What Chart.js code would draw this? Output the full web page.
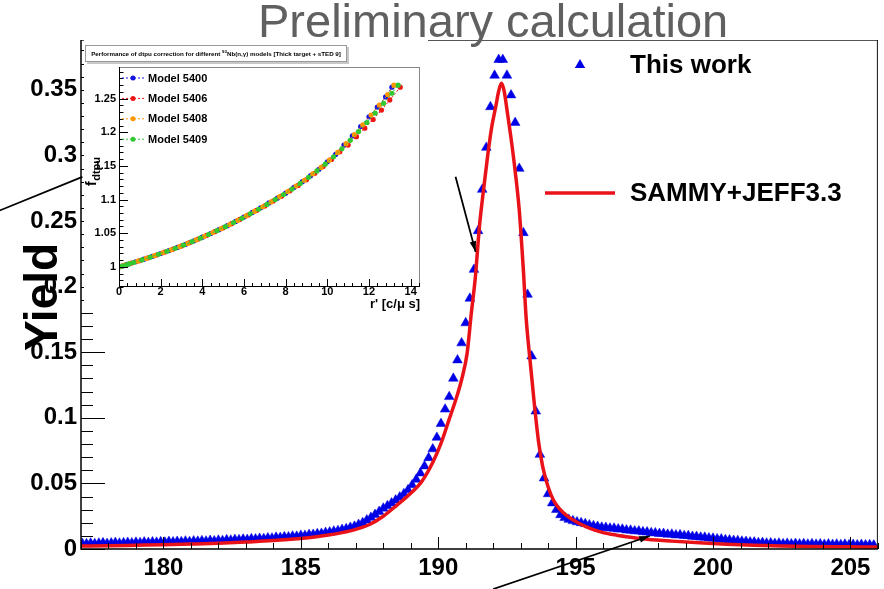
<!DOCTYPE html>
<html>
<head>
<meta charset="utf-8">
<title>Yield</title>
<script src="https://cdn.jsdelivr.net/npm/chart.js@4.4.1/dist/chart.umd.min.js"></script>
<style>
body { margin: 0; background: #fff; }
#wrap { position: relative; width: 884px; height: 589px; overflow: hidden; }
#main-chart { position: absolute; left: 0; top: 0; }
#inset-chart { position: absolute; left: 84px; top: 40px; }
</style>
</head>
<body>
<div id="wrap">
	<canvas id="main-chart" width="884" height="589"></canvas>
	<canvas id="inset-chart" width="344" height="272"></canvas>
</div>
<script>
var FONT = '"Liberation Sans", Arial, Helvetica, sans-serif';

// main axes
var xTicks = [180, 185, 190, 195, 200, 205];
var yTicks = [0, 0.05, 0.1, 0.15, 0.2, 0.25, 0.3, 0.35];
var yTickLabels = ['0', '0.05', '0.1', '0.15', '0.2', '0.25', '0.3', '0.35'];
var seriesNames = ['This work', 'SAMMY+JEFF3.3'];

// measured yield (This work)
var energyWork = [
	177.05, 177.2, 177.35, 177.5, 177.65, 177.8, 177.95, 178.1, 178.25, 178.4, 178.55, 178.7, 178.85, 179, 179.15, 179.3, 179.45, 179.6, 179.75, 179.9,
	180.05, 180.2, 180.35, 180.5, 180.65, 180.8, 180.95, 181.1, 181.25, 181.4, 181.55, 181.7, 181.85, 182, 182.15, 182.3, 182.45, 182.6, 182.75, 182.9,
	183.05, 183.2, 183.35, 183.5, 183.65, 183.8, 183.95, 184.1, 184.25, 184.4, 184.55, 184.7, 184.85, 185, 185.15, 185.3, 185.45, 185.6, 185.75, 185.9,
	186.05, 186.2, 186.35, 186.5, 186.65, 186.8, 186.95, 187.1, 187.25, 187.4, 187.55, 187.7, 187.85, 188, 188.15, 188.3, 188.45, 188.6, 188.75, 188.9,
	189.05, 189.2, 189.35, 189.5, 189.65, 189.8, 189.95, 190.1, 190.25, 190.4, 190.55, 190.7, 190.85, 191, 191.15, 191.3, 191.45, 191.6, 191.75, 191.9,
	192.05, 192.2, 192.35, 192.5, 192.65, 192.8, 192.95, 193.1, 193.25, 193.4, 193.55, 193.7, 193.85, 194, 194.15, 194.3, 194.45, 194.6, 194.75, 194.9,
	195.05, 195.2, 195.35, 195.5, 195.65, 195.8, 195.95, 196.1, 196.25, 196.4, 196.55, 196.7, 196.85, 197, 197.15, 197.3, 197.45, 197.6, 197.75, 197.9,
	198.05, 198.2, 198.35, 198.5, 198.65, 198.8, 198.95, 199.1, 199.25, 199.4, 199.55, 199.7, 199.85, 200, 200.15, 200.3, 200.45, 200.6, 200.75, 200.9,
	201.05, 201.2, 201.35, 201.5, 201.65, 201.8, 201.95, 202.1, 202.25, 202.4, 202.55, 202.7, 202.85, 203, 203.15, 203.3, 203.45, 203.6, 203.75, 203.9,
	204.05, 204.2, 204.35, 204.5, 204.65, 204.8, 204.95, 205.1, 205.25, 205.4, 205.55, 205.7, 205.85
];
var yieldWork = [
	0.0041, 0.0039, 0.0044, 0.0040, 0.0043, 0.0046, 0.0041, 0.0045, 0.0048, 0.0043, 0.0046, 0.0049, 0.0045, 0.0050, 0.0047, 0.0052, 0.0048, 0.0053, 0.0050, 0.0054,
	0.0051, 0.0056, 0.0053, 0.0057, 0.0054, 0.0059, 0.0055, 0.0060, 0.0058, 0.0062, 0.0059, 0.0064, 0.0061, 0.0066, 0.0063, 0.0069, 0.0066, 0.0071, 0.0069, 0.0074,
	0.0071, 0.0077, 0.0075, 0.0080, 0.0078, 0.0084, 0.0082, 0.0088, 0.0086, 0.0092, 0.0091, 0.0097, 0.0096, 0.0103, 0.0102, 0.0109, 0.0110, 0.0116, 0.0118, 0.0125,
	0.0128, 0.0135, 0.0139, 0.0148, 0.0154, 0.0164, 0.0172, 0.0186, 0.0200, 0.0220, 0.0240, 0.0262, 0.0285, 0.0310, 0.0328, 0.0350, 0.0372, 0.0395, 0.0420, 0.0450,
	0.0488, 0.0530, 0.0578, 0.0632, 0.0695, 0.0762, 0.0850, 0.0955, 0.1065, 0.1160, 0.1300, 0.1440, 0.1570, 0.1723, 0.1910, 0.2130, 0.2425, 0.2740, 0.3060, 0.3370,
	0.3610, 0.3730, 0.3730, 0.3610, 0.3460, 0.3250, 0.2900, 0.2410, 0.1940, 0.1470, 0.1050, 0.0720, 0.0540, 0.0420, 0.0350, 0.0300, 0.0260, 0.0238, 0.0225, 0.0215,
	0.0206, 0.0199, 0.0192, 0.0183, 0.0176, 0.0171, 0.0165, 0.0163, 0.0158, 0.0157, 0.0151, 0.0150, 0.0144, 0.0142, 0.0137, 0.0136, 0.0130, 0.0129, 0.0123, 0.0122,
	0.0117, 0.0117, 0.0111, 0.0112, 0.0106, 0.0107, 0.0101, 0.0101, 0.0095, 0.0094, 0.0089, 0.0088, 0.0083, 0.0081, 0.0076, 0.0075, 0.0070, 0.0068, 0.0064, 0.0063,
	0.0058, 0.0057, 0.0052, 0.0052, 0.0047, 0.0048, 0.0044, 0.0045, 0.0041, 0.0043, 0.0039, 0.0042, 0.0038, 0.0041, 0.0037, 0.0040, 0.0036, 0.0039, 0.0035, 0.0038,
	0.0034, 0.0037, 0.0033, 0.0036, 0.0032, 0.0035, 0.0031, 0.0034, 0.0030, 0.0033, 0.0030, 0.0032, 0.0029
];

// SAMMY fit with JEFF-3.3 parameters
var energySammy = [177, 178, 179, 180, 181, 182, 183, 184, 185, 185.5, 186, 186.5, 187, 187.5, 188, 188.5, 189, 189.4, 189.8, 190.1, 190.4, 190.65,
	190.85, 191.05, 191.2, 191.35, 191.5, 191.65, 191.8, 191.95, 192.1, 192.2, 192.3, 192.4, 192.5, 192.65, 192.8, 192.95, 193.1, 193.2,
	193.35, 193.5, 193.65, 193.8, 194, 194.2, 194.4, 194.7, 195.1, 195.5, 196, 196.5, 197, 197.6, 198.5, 199.5, 200.5, 201.5, 202.5,
	203.5, 204.5, 205.5, 206];
var yieldSammy = [0.0022, 0.0025, 0.0029, 0.0033, 0.0038, 0.0044, 0.0053, 0.0064, 0.0080, 0.0091, 0.0106, 0.0125, 0.0150, 0.0187, 0.0250, 0.0335, 0.0425, 0.0515, 0.0660, 0.0805, 0.0990, 0.1145,
	0.1290, 0.1490, 0.1790, 0.2070, 0.2460, 0.2740, 0.3000, 0.3220, 0.3380, 0.3490, 0.3550, 0.3490, 0.3350, 0.3130, 0.2880, 0.2580, 0.2120, 0.1760,
	0.1420, 0.1100, 0.0820, 0.0630, 0.0473, 0.0370, 0.0310, 0.0250, 0.0198, 0.0160, 0.0125, 0.0105, 0.0090, 0.0075, 0.0060, 0.0047, 0.0037, 0.0029, 0.0023,
	0.0019, 0.0017, 0.0016, 0.0015];

// inset: dtpu correction factor vs counting rate
var insetModels = ['Model 5400', 'Model 5406', 'Model 5408', 'Model 5409'];
var insetXTicks = [0, 2, 4, 6, 8, 10, 12, 14];
var insetYTicks = [1, 1.05, 1.1, 1.15, 1.2, 1.25];
var insetYTickLabels = ['1', '1.05', '1.1', '1.15', '1.2', '1.25'];

var rate5400 = [0.05, 0.2, 0.4, 0.8, 1.2, 1.6, 2.0, 2.4, 2.8, 3.2, 3.6, 4.0, 4.4, 4.8, 5.2, 5.6, 6.0, 6.4, 6.8, 7.2, 7.6, 8.0, 8.4, 8.8, 9.2, 9.6, 10.0, 10.4, 10.8, 11.2, 11.6, 12.0, 12.4, 12.8, 13.1];
var fdtpu5400 = [1.0003, 1.0015, 1.0035, 1.0075, 1.0113, 1.0155, 1.0198, 1.0242, 1.0288, 1.0335, 1.0387, 1.0440, 1.0495, 1.0552, 1.0612, 1.0675, 1.0740, 1.0808, 1.0878, 1.0950, 1.1020, 1.1095, 1.1180, 1.1265, 1.1355, 1.1450, 1.1560, 1.1670, 1.1810, 1.1945, 1.2085, 1.2230, 1.2375, 1.2525, 1.2670];

var rate5406 = [0.1, 0.3, 0.6, 1.0, 1.4, 1.8, 2.2, 2.6, 3.0, 3.4, 3.8, 4.2, 4.6, 5.0, 5.4, 5.8, 6.2, 6.6, 7.0, 7.4, 7.8, 8.2, 8.6, 9.0, 9.4, 9.8, 10.2, 10.6, 11.0, 11.4, 11.8, 12.2, 12.6, 13.0, 13.5];
var fdtpu5406 = [1.0008, 1.0025, 1.0055, 1.0093, 1.0133, 1.0176, 1.0219, 1.0264, 1.0310, 1.0360, 1.0412, 1.0466, 1.0522, 1.0580, 1.0641, 1.0704, 1.0770, 1.0838, 1.0905, 1.0978, 1.1050, 1.1130, 1.1210, 1.1295, 1.1390, 1.1490, 1.1595, 1.1710, 1.1810, 1.1935, 1.2060, 1.2190, 1.2330, 1.2480, 1.2670];

var rate5408 = [0.05, 0.25, 0.5, 0.9, 1.3, 1.7, 2.1, 2.5, 2.9, 3.3, 3.7, 4.1, 4.5, 4.9, 5.3, 5.7, 6.1, 6.5, 6.9, 7.3, 7.7, 8.1, 8.5, 8.9, 9.3, 9.7, 10.1, 10.5, 10.9, 11.3, 11.7, 12.1, 12.5, 12.9, 13.2];
var fdtpu5408 = [1.0004, 1.0022, 1.0046, 1.0084, 1.0124, 1.0166, 1.0209, 1.0253, 1.0299, 1.0348, 1.0400, 1.0453, 1.0509, 1.0567, 1.0627, 1.0690, 1.0756, 1.0823, 1.0893, 1.0965, 1.1040, 1.1118, 1.1200, 1.1287, 1.1380, 1.1478, 1.1585, 1.1700, 1.1830, 1.1965, 1.2110, 1.2255, 1.2405, 1.2560, 1.2700];

var rate5409 = [0.0, 0.15, 0.35, 0.5, 0.7, 1.1, 1.5, 1.9, 2.3, 2.7, 3.1, 3.5, 3.9, 4.3, 4.7, 5.1, 5.5, 5.9, 6.3, 6.7, 7.1, 7.5, 7.9, 8.3, 8.7, 9.1, 9.5, 9.9, 10.3, 10.7, 11.1, 11.5, 11.9, 12.3, 12.7, 13.1, 13.4];
var fdtpu5409 = [1.0000, 1.0012, 1.0030, 1.0045, 1.0064, 1.0103, 1.0144, 1.0187, 1.0230, 1.0276, 1.0323, 1.0373, 1.0426, 1.0480, 1.0537, 1.0596, 1.0657, 1.0721, 1.0787, 1.0856, 1.0927, 1.1000, 1.1075, 1.1155, 1.1240, 1.1330, 1.1425, 1.1525, 1.1635, 1.1755, 1.1880, 1.2010, 1.2145, 1.2285, 1.2430, 1.2580, 1.2700];

var workColor = 'rgb(0,0,230)';
var sammyColor = 'rgb(232,18,24)';
var insetColors = ['rgb(20,20,225)', 'rgb(240,20,20)', 'rgb(255,150,0)', 'rgb(50,200,50)'];

Chart.defaults.font.family = FONT;
Chart.defaults.color = '#000';

var pts = function (xs, ys) {
	return xs.map(function (x, i) { return { x: x, y: ys[i] }; });
};

// ROOT style tick marks, drawn inside the frame
var tickLines = function (ctx, scale, area, axis, values, len) {
	ctx.beginPath();
	values.forEach(function (v) {
		let p = scale.getPixelForValue(v);
		if (axis === 'x') {
			if (p < area.left - 0.5 || p > area.right + 0.5) return;
			p = Math.round(p) + 0.5;
			ctx.moveTo(p, area.bottom);
			ctx.lineTo(p, area.bottom - len);
		} else {
			if (p < area.top - 0.5 || p > area.bottom + 0.5) return;
			p = Math.round(p) + 0.5;
			ctx.moveTo(area.left, p);
			ctx.lineTo(area.left + len, p);
		}
	});
	ctx.stroke();
};

var steps = function (from, to, step) {
	let out = [];
	let n = Math.round((to - from) / step);
	for (let i = 0; i <= n; i++) out.push(from + i * step);
	return out;
};

var triangle = function (ctx, x, y, r) {
	ctx.beginPath();
	ctx.moveTo(x, y - r);
	ctx.lineTo(x + r * 0.866, y + r * 0.5);
	ctx.lineTo(x - r * 0.866, y + r * 0.5);
	ctx.closePath();
	ctx.fill();
};

var arrow = function (ctx, x1, y1, x2, y2, head) {
	ctx.beginPath();
	ctx.moveTo(x1, y1);
	ctx.lineTo(x2, y2);
	ctx.stroke();
	if (!head) return;
	let a = Math.atan2(y2 - y1, x2 - x1);
	ctx.beginPath();
	ctx.moveTo(x2, y2);
	ctx.lineTo(x2 - head * Math.cos(a - 0.3), y2 - head * Math.sin(a - 0.3));
	ctx.lineTo(x2 - head * Math.cos(a + 0.3), y2 - head * Math.sin(a + 0.3));
	ctx.closePath();
	ctx.fill();
};

// pointers in (energy, yield) units
var pointers = [
	{ from: [190.63, 0.2837], to: [191.36, 0.2265], head: 11 },
	{ from: [192.0, -0.0305], to: [197.7, 0.0099], head: 11 },
	{ from: [174.0, 0.2577], to: [177.05, 0.2837], head: 0 }
];

var mainDecor = {
	id: 'mainDecor',
	afterDraw: function (chart) {
		let ctx = chart.ctx, a = chart.chartArea;
		let xs = chart.scales.x, ys = chart.scales.y;
		ctx.save();

		// frame
		ctx.lineWidth = 1;
		ctx.strokeStyle = '#555';
		ctx.beginPath();
		ctx.moveTo(a.left, a.top + 0.5);
		ctx.lineTo(a.right, a.top + 0.5);
		ctx.stroke();
		ctx.strokeStyle = '#111';
		ctx.beginPath();
		ctx.moveTo(a.right - 0.5, a.top);
		ctx.lineTo(a.right - 0.5, a.bottom);
		ctx.stroke();
		ctx.strokeStyle = '#000';
		ctx.lineWidth = 1.5;
		ctx.beginPath();
		ctx.moveTo(a.left, a.top);
		ctx.lineTo(a.left, a.bottom);
		ctx.lineTo(a.right, a.bottom);
		ctx.stroke();

		ctx.lineWidth = 1;
		tickLines(ctx, xs, a, 'x', steps(177, 206, 1), 6);
		tickLines(ctx, xs, a, 'x', xTicks, 12);
		tickLines(ctx, ys, a, 'y', steps(0, 0.38, 0.01), 12);
		tickLines(ctx, ys, a, 'y', yTicks, 24);

		// axis title
		ctx.fillStyle = '#000';
		ctx.save();
		ctx.translate(57, 297);
		ctx.rotate(-Math.PI / 2);
		ctx.font = 'bold 46px ' + FONT;
		ctx.textAlign = 'center';
		ctx.textBaseline = 'alphabetic';
		ctx.fillText('Yield', 0, 0);
		ctx.restore();

		// header
		ctx.font = '47px ' + FONT;
		ctx.fillStyle = '#606060';
		ctx.textAlign = 'left';
		ctx.textBaseline = 'alphabetic';
		ctx.fillText('Preliminary calculation', 258, 37);

		// legend
		ctx.fillStyle = workColor;
		triangle(ctx, 580, 65, 6);
		ctx.strokeStyle = sammyColor;
		ctx.lineWidth = 3.5;
		ctx.beginPath();
		ctx.moveTo(545, 193);
		ctx.lineTo(615, 193);
		ctx.stroke();
		ctx.fillStyle = '#000';
		ctx.font = 'bold 26px ' + FONT;
		ctx.textBaseline = 'middle';
		ctx.fillText(seriesNames[0], 630, 66);
		ctx.fillText(seriesNames[1], 630, 194);

		// pointers
		ctx.strokeStyle = '#000';
		ctx.fillStyle = '#000';
		ctx.lineWidth = 1.8;
		pointers.forEach(function (p) {
			arrow(ctx, xs.getPixelForValue(p.from[0]), ys.getPixelForValue(p.from[1]),
				xs.getPixelForValue(p.to[0]), ys.getPixelForValue(p.to[1]), p.head);
		});
		ctx.restore();
	}
};

var insetDecor = {
	id: 'insetDecor',
	beforeDraw: function (chart) {
		let ctx = chart.ctx;
		ctx.save();
		ctx.fillStyle = '#fff';
		ctx.fillRect(0, 0, chart.width, chart.height);
		ctx.restore();
	},
	afterDraw: function (chart) {
		let ctx = chart.ctx, a = chart.chartArea;
		let xs = chart.scales.x, ys = chart.scales.y;
		ctx.save();

		ctx.lineWidth = 1;
		ctx.strokeStyle = '#888';
		ctx.strokeRect(a.left + 0.5, a.top + 0.5, a.right - a.left - 1, a.bottom - a.top - 1);
		ctx.strokeStyle = '#000';
		ctx.beginPath();
		ctx.moveTo(a.left + 0.5, a.top);
		ctx.lineTo(a.left + 0.5, a.bottom - 0.5);
		ctx.lineTo(a.right, a.bottom - 0.5);
		ctx.stroke();
		tickLines(ctx, xs, a, 'x', steps(0, 14.4, 0.4), 4);
		tickLines(ctx, xs, a, 'x', insetXTicks, 8);
		tickLines(ctx, ys, a, 'y', steps(0.97, 1.29, 0.01), 4.5);
		tickLines(ctx, ys, a, 'y', insetYTicks, 9);

		// title box
		ctx.fillStyle = '#c8c8c8';
		ctx.fillRect(3, 7, 262, 17);
		ctx.fillStyle = '#fff';
		ctx.fillRect(1, 5, 262, 17);
		ctx.strokeStyle = '#999';
		ctx.strokeRect(1.5, 5.5, 261, 16);
		let s1 = 'Performance of dtpu correction for different ', s2 = '93', s3 = 'Nb(n,\u03b3) models [Thick target + sTED 9]';
		ctx.font = 'bold 6px ' + FONT;
		let w = ctx.measureText(s1 + s3).width + ctx.measureText(s2).width * 0.7;
		let size = 6 * 250 / w;
		ctx.font = 'bold ' + size.toFixed(2) + 'px ' + FONT;
		let w1 = ctx.measureText(s1).width, w3 = ctx.measureText(s3).width;
		ctx.font = 'bold ' + (size * 0.7).toFixed(2) + 'px ' + FONT;
		let w2 = ctx.measureText(s2).width;
		let x0 = 132 - (w1 + w2 + w3) / 2;
		ctx.fillStyle = '#000';
		ctx.textBaseline = 'middle';
		ctx.textAlign = 'left';
		ctx.font = 'bold ' + size.toFixed(2) + 'px ' + FONT;
		ctx.fillText(s1, x0, 14);
		ctx.fillText(s3, x0 + w1 + w2, 14);
		ctx.font = 'bold ' + (size * 0.7).toFixed(2) + 'px ' + FONT;
		ctx.fillText(s2, x0 + w1, 12);

		// legend
		insetModels.forEach(function (name, i) {
			let y = 38 + i * 20.4;
			ctx.strokeStyle = insetColors[i];
			ctx.lineWidth = 1;
			ctx.setLineDash([2, 2]);
			ctx.beginPath();
			ctx.moveTo(38, y);
			ctx.lineTo(61, y);
			ctx.stroke();
			ctx.setLineDash([]);
			ctx.fillStyle = insetColors[i];
			ctx.beginPath();
			ctx.arc(49, y, 2.5, 0, Math.PI * 2);
			ctx.fill();
			ctx.fillStyle = '#000';
			ctx.font = 'bold 11px ' + FONT;
			ctx.fillText(name, 64, y + 0.5);
		});

		// axis titles
		ctx.fillStyle = '#000';
		ctx.save();
		ctx.translate(12, 146);
		ctx.rotate(-Math.PI / 2);
		ctx.textBaseline = 'alphabetic';
		ctx.font = 'bold 14px ' + FONT;
		ctx.fillText('f', 0, 0);
		let fw = ctx.measureText('f').width;
		ctx.font = 'bold 11px ' + FONT;
		ctx.fillText('dtpu', fw + 0.5, 4);
		ctx.restore();

		ctx.font = 'bold 13px ' + FONT;
		ctx.textAlign = 'right';
		ctx.textBaseline = 'alphabetic';
		ctx.fillText("r' [c/\u03bc s]", a.right, 268);
		ctx.restore();
	}
};

function makeMain() {
	let ctx = document.getElementById('main-chart').getContext('2d');
	return new Chart(ctx, {
		type: 'scatter',
		data: {
			datasets: [{
				label: seriesNames[1],
				type: 'line',
				data: pts(energySammy, yieldSammy),
				borderColor: sammyColor,
				borderWidth: 3.5,
				pointRadius: 0,
				showLine: true,
				fill: false,
				cubicInterpolationMode: 'monotone',
				order: 0
			}, {
				label: seriesNames[0],
				data: pts(energyWork, yieldWork),
				pointStyle: 'triangle',
				pointRadius: 5.6,
				pointBorderWidth: 0.5,
				pointBackgroundColor: workColor,
				pointBorderColor: workColor,
				showLine: false,
				order: 1
			}]
		},
		options: {
			responsive: false,
			animation: false,
			events: [],
			layout: { padding: { top: 40, right: 4, left: 0, bottom: 0 } },
			plugins: { legend: { display: false }, tooltip: { enabled: false } },
			scales: {
				x: {
					type: 'linear', min: 177, max: 206,
					grid: { display: false, drawTicks: false },
					border: { display: false },
					afterBuildTicks: function (s) { s.ticks = xTicks.map(function (v) { return { value: v }; }); },
					afterFit: function (s) { s.height = 40; },
					ticks: {
						autoSkip: false, maxRotation: 0, padding: 5,
						font: { size: 24, weight: 'bold' },
						callback: function (v) { return String(v); }
					}
				},
				y: {
					type: 'linear', min: 0, max: 0.388,
					grid: { display: false, drawTicks: false },
					border: { display: false },
					afterBuildTicks: function (s) { s.ticks = yTicks.map(function (v) { return { value: v }; }); },
					afterFit: function (s) { s.width = 81; },
					ticks: {
						autoSkip: false, padding: 4,
						font: { size: 24, weight: 'bold' },
						callback: function (v, i) { return yTickLabels[i]; }
					}
				}
			}
		},
		plugins: [mainDecor]
	});
}

function makeInset() {
	let ctx = document.getElementById('inset-chart').getContext('2d');
	let sets = [[rate5400, fdtpu5400], [rate5406, fdtpu5406], [rate5408, fdtpu5408], [rate5409, fdtpu5409]];
	let datasets = sets.map(function (s, i) {
		return {
			label: insetModels[i],
			data: pts(s[0], s[1]),
			showLine: true,
			borderColor: insetColors[i],
			borderWidth: 1,
			borderDash: [2, 2],
			pointRadius: 2.6,
			pointBorderWidth: 0,
			pointBackgroundColor: insetColors[i],
			order: 3 - i
		};
	});
	return new Chart(ctx, {
		type: 'scatter',
		data: { datasets: datasets },
		options: {
			responsive: false,
			animation: false,
			events: [],
			layout: { padding: { top: 27, right: 8, left: 0, bottom: 0 } },
			plugins: { legend: { display: false }, tooltip: { enabled: false } },
			scales: {
				x: {
					type: 'linear', min: 0, max: 14.45,
					grid: { display: false, drawTicks: false },
					border: { display: false },
					afterBuildTicks: function (s) { s.ticks = insetXTicks.map(function (v) { return { value: v }; }); },
					afterFit: function (s) { s.height = 25; },
					ticks: {
						autoSkip: false, maxRotation: 0, padding: -1,
						font: { size: 11, weight: 'bold', lineHeight: 1 },
						callback: function (v) { return String(v); }
					}
				},
				y: {
					type: 'linear', min: 0.97, max: 1.297,
					grid: { display: false, drawTicks: false },
					border: { display: false },
					afterBuildTicks: function (s) { s.ticks = insetYTicks.map(function (v) { return { value: v }; }); },
					afterFit: function (s) { s.width = 35; },
					ticks: {
						autoSkip: false, padding: 3,
						font: { size: 11, weight: 'bold' },
						callback: function (v, i) { return insetYTickLabels[i]; }
					}
				}
			}
		},
		plugins: [insetDecor]
	});
}

makeMain();
makeInset();
</script>
</body>
</html>
